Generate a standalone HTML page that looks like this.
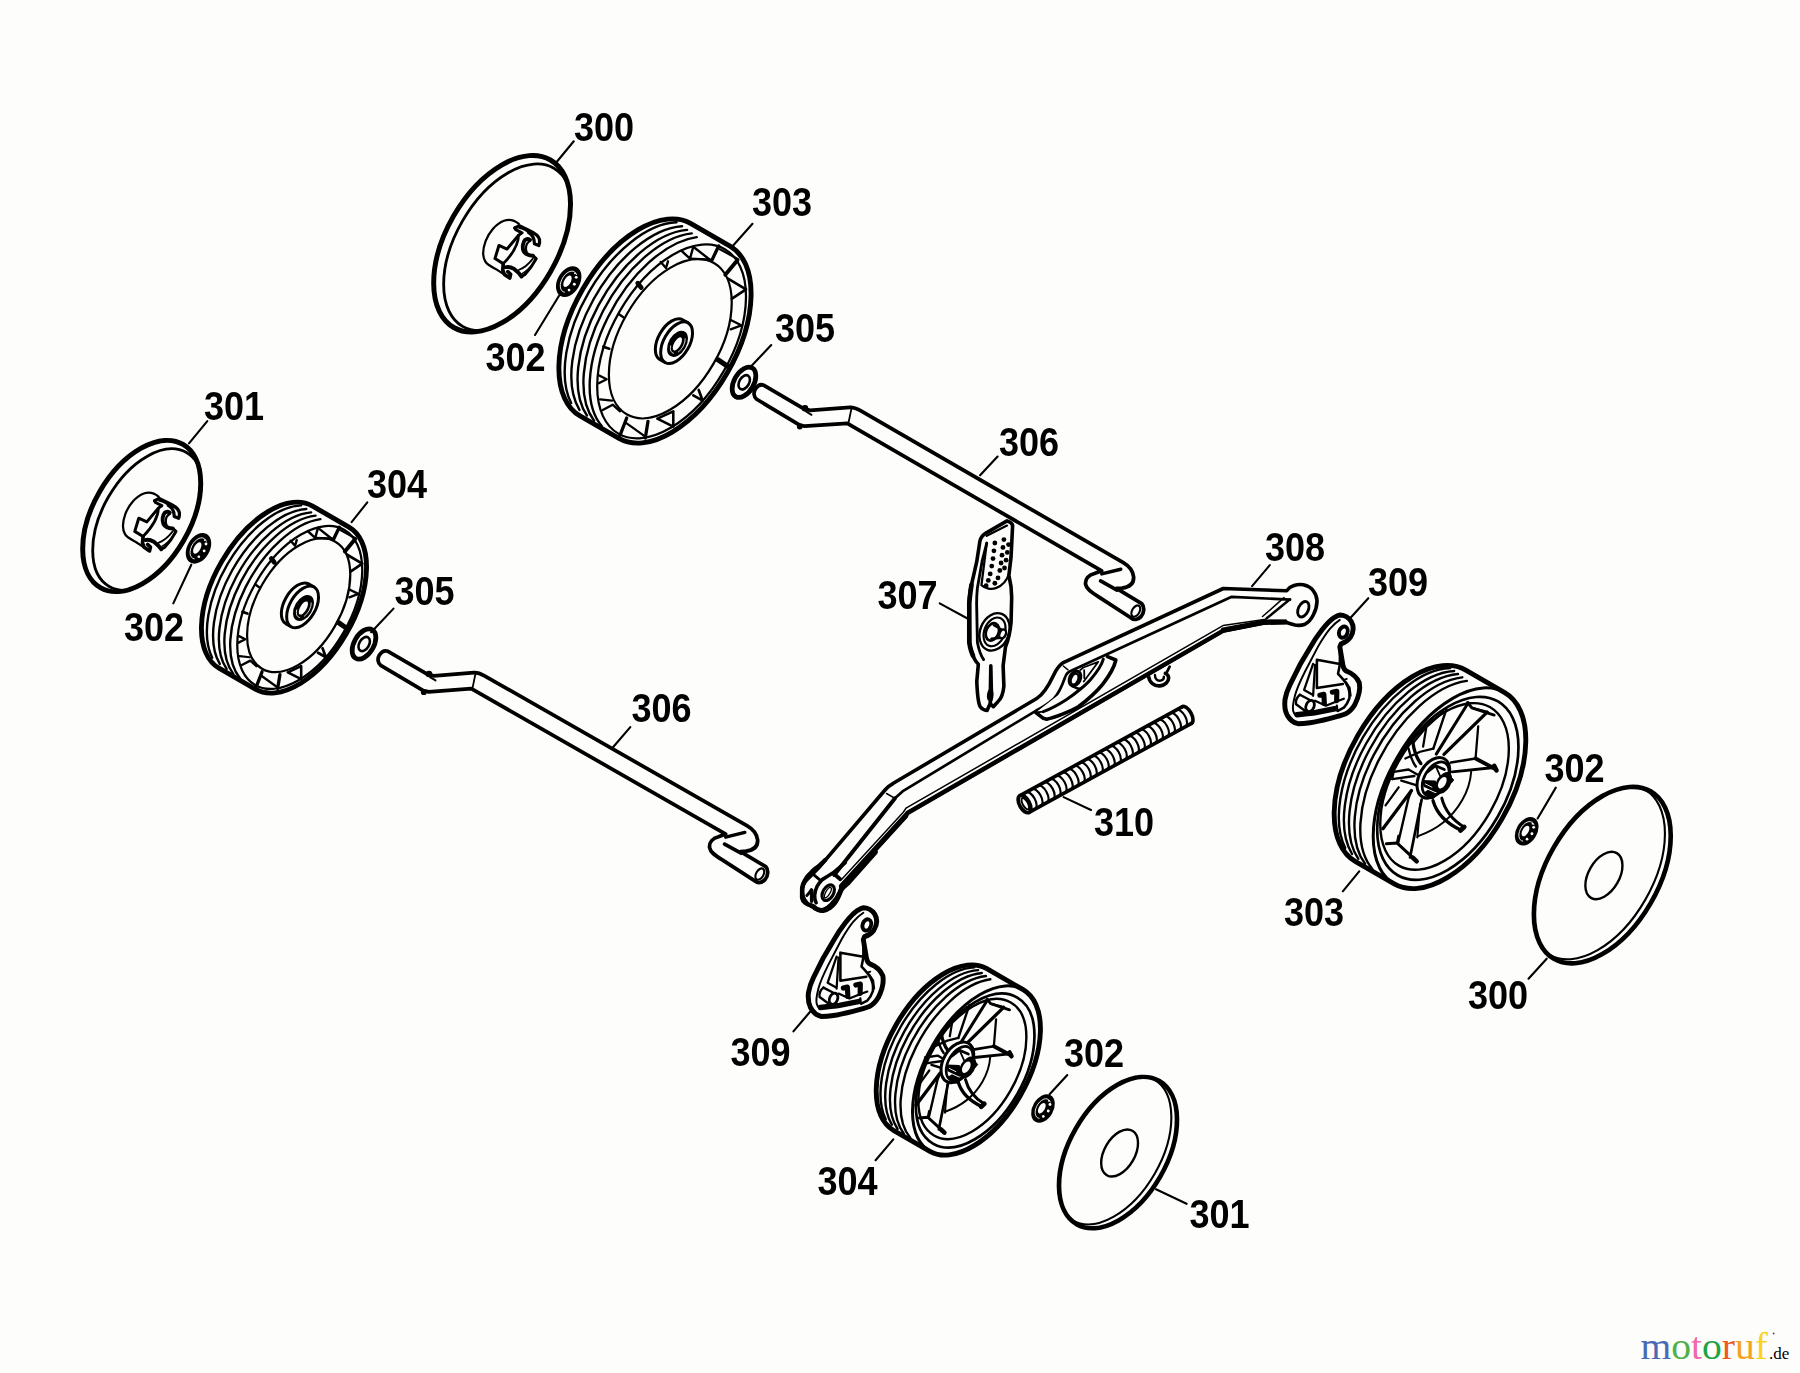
<!DOCTYPE html>
<html><head><meta charset="utf-8"><title>Parts diagram 300-310</title>
<style>html,body{margin:0;padding:0;background:#fdfefc}svg{display:block}path,ellipse,circle,line{vector-effect:non-scaling-stroke}text{font-family:"Liberation Sans",sans-serif;font-weight:bold;font-size:35px;fill:#000;stroke:none;opacity:.996}.logo text{font-family:"Liberation Serif",serif;font-weight:normal}</style></head><body>
<svg width="1800" height="1373" viewBox="0 0 1800 1373">
<rect width="1800" height="1373" fill="#fdfefc"/>
<g fill="none" stroke="#000" stroke-linecap="round" stroke-linejoin="round">
<g id="parts">
<ellipse cx="502.1" cy="243.75" rx="55.9" ry="96.7" transform="rotate(30 502.1 243.75)" stroke-width="4.95" fill="#fdfefc"/>
<clipPath id="c1"><ellipse cx="502.1" cy="243.75" rx="55.9" ry="96.7" transform="rotate(30 502.1 243.75)"/></clipPath>
<g clip-path="url(#c1)">
<ellipse cx="508.25" cy="247.3" rx="52.78" ry="91.3" transform="rotate(30 508.25 247.3)" stroke-width="2.85" />
</g>
<g transform="translate(465 205) scale(0.072222)">
<path d="M745 262C690 215 620 190 540 218C430 258 330 380 285 500C245 610 245 720 280 780C310 830 380 860 440 895L620 1012" stroke-width="2.25" />
<path d="M690 318L752 288L880 350C960 385 1020 420 1032 480C1036 520 1030 545 1022 560L962 536C960 470 935 410 880 380" stroke-width="3.3" />
<path d="M752 320C800 325 860 360 900 390" stroke-width="1.8" />
<path d="M690 318L702 342L790 386L742 420L582 610L470 560L415 742L530 812" stroke-width="3" />
<path d="M742 420C740 520 690 650 530 812" stroke-width="2.7" />
<path d="M530 812L522 900L545 962L620 1012L632 960L592 922" stroke-width="3.6" />
<path d="M560 862C600 850 640 862 680 885L742 940L782 990" stroke-width="3.9" />
<path d="M782 990L830 962C880 910 940 830 986 742L940 702" stroke-width="3" />
<path d="M742 900C800 880 880 820 940 742" stroke-width="1.8" />
<path d="M790 950C850 920 920 850 980 765" stroke-width="1.5" />
<path d="M940 702C890 700 840 690 812 640C790 590 800 520 830 485C850 468 880 470 900 482" stroke-width="3.9" />
<path d="M900 500C860 520 840 570 845 620C850 660 865 680 885 690" stroke-width="2.25" />
</g>
<ellipse cx="568.7" cy="281.6" rx="11.2" ry="16.5" transform="rotate(30 568.7 281.6)" fill="#000" stroke="none"/>
<g stroke="#fdfefc">
<path d="M564.44 292.2A6.9 11.6 30 1 1 576.51 274.63" stroke-width="0.9" />
</g>
<ellipse cx="567.5" cy="281.3" rx="3.2" ry="6.3" transform="rotate(30 567.5 281.3)" fill="#fdfefc" stroke="none"/>
<circle cx="576.21" cy="277.36" r="1.45" fill="#fdfefc" stroke="none"/>
<circle cx="574.34" cy="284.22" r="1.45" fill="#fdfefc" stroke="none"/>
<circle cx="569.05" cy="290.07" r="1.35" fill="#fdfefc" stroke="none"/>
<circle cx="574.95" cy="273.35" r="0.9" fill="#fdfefc" stroke="none"/>
<path d="M580 415.88A61 111 30 0 1 691 223.62L729.97 246.12A61 111 30 0 1 618.97 438.38Z" stroke-width="4.88" fill="#fdfefc"/>
<path d="M571.12 403.02A61 111 30 0 1 676.62 222.3" stroke-width="2.4" />
<path d="M579.45 409.96A61 111 30 0 1 682.06 226.19" stroke-width="2.4" />
<path d="M586.92 415.51A61 111 30 0 1 687.09 229.88" stroke-width="2.4" />
<path d="M594.09 420.73A61 111 30 0 1 691.72 233.37" stroke-width="2.4" />
<path d="M601.73 426.07A61 111 30 0 1 696.73 237.12" stroke-width="2.4" />
<g transform="translate(674.47 342.25) scale(1) translate(-674.47 -342.25)">
<ellipse cx="671.6" cy="341.4" rx="60" ry="106.5" transform="rotate(30 671.6 341.4)" stroke-width="2.25" />
<ellipse cx="670.3" cy="338.7" rx="49.9" ry="87.3" transform="rotate(30 670.3 338.7)" stroke-width="2.25" />
<path d="M637.8 283.2L641.2 287.6" stroke-width="4.8" />
<path d="M618.7 314L623.3 317.3" stroke-width="2.4" />
<path d="M603.3 346.7L609.3 348.7" stroke-width="2.7" />
<path d="M660.7 262L666 268L668 261.3" stroke-width="2.4" />
<path d="M681.3 250.7L690 258.7L693.3 246.7" stroke-width="2.4" />
<path d="M693.3 246.7L709.3 259.3M690.7 258.7L710.7 259.6" stroke-width="2.4" />
<path d="M718.7 246L712 260" stroke-width="3.3" />
<path d="M720 249.3L737.3 258.7" stroke-width="2.25" />
<path d="M737.6 260L725.3 274.7" stroke-width="3.9" />
<path d="M728 278.7L746 289.3L732 298.7" stroke-width="2.7" />
<path d="M730.7 320L741.3 325.3L730.7 329.3" stroke-width="2.4" />
<path d="M717.8 359.6L727.4 366.2" stroke-width="5.1" />
<path d="M693.3 395.3L702.7 400.7L698.7 390" stroke-width="2.7" />
<path d="M657.3 418.7L673.3 411.3L673.3 426.7Z" stroke-width="2.55" />
<path d="M620 435.3L626.7 418" stroke-width="3.3" />
<path d="M626.7 423.3L645.3 436.7" stroke-width="2.25" />
<path d="M645.3 438L648 421.3" stroke-width="3.3" />
<path d="M602.7 410L612.7 404.7L620 411.3" stroke-width="2.4" />
<path d="M600 399.3L612 400.7" stroke-width="2.25" />
<path d="M598.7 375.3L606.7 379.3L598.7 383.3" stroke-width="2.4" />
</g>
<path d="M665.15 362.53L659.69 359.38A12.8 22.9 30 0 1 682.59 319.72L688.05 322.87" stroke-width="3" fill="#fdfefc"/>
<ellipse cx="676.6" cy="342.7" rx="12.8" ry="22.9" transform="rotate(30 676.6 342.7)" stroke-width="3" fill="#fdfefc"/>
<ellipse cx="677.5" cy="343.8" rx="8.9" ry="14.2" transform="rotate(30 677.5 343.8)" fill="#000" stroke="none"/>
<g stroke="#fdfefc">
<path d="M685.2 338.7A6 10.6 30 0 1 678.37 352" stroke-width="0.83" />
<path d="M673.48 353.36A6 10.6 30 0 1 670.65 345.79" stroke-width="0.83" />
</g>
<ellipse cx="677.4" cy="343.8" rx="3.2" ry="7.4" transform="rotate(30 677.4 343.8)" fill="#fdfefc" stroke="none"/>
<ellipse cx="744" cy="382.3" rx="9.8" ry="16.5" transform="rotate(30 744 382.3)" stroke-width="4.8" fill="#fdfefc"/>
<ellipse cx="744.2" cy="382.3" rx="4.9" ry="7.7" transform="rotate(30 744.2 382.3)" stroke-width="2.62" />
<g transform="translate(0 0) matrix(1 0.008 0 1 0 -5.5)">
<path d="M764 384.7L804 408L810 409.3L850 406C854 405.8 857 407.2 860.5 409.2L1123.3 559.2C1129 562.5 1133 567.5 1133.6 573.3C1134 579 1130.5 583.4 1122 584.6L1116.5 585L1141.7 600C1144.5 603 1144.6 608.5 1141 613C1138 616.2 1134 617 1130.8 614.2L1098.3 593.3C1091 589 1086.2 585.6 1085.6 581C1085 576 1088.5 571.8 1094.5 570.2L1101.7 567.5L847.3 422L804.7 425.3L799.3 424L756.7 398.7C753.8 396.5 753.2 392 755.4 388.5C757.6 385 761 383.5 764 384.7Z" stroke-width="3.75" fill="#fdfefc"/>
<path d="M851.5 407L848.5 421.5" stroke-width="1.8" />
<circle cx="805" cy="407.4" r="3.3" fill="#000" stroke="none"/>
<circle cx="799.8" cy="425.6" r="2.9" fill="#000" stroke="none"/>
<path d="M806 410.5L811.5 413.8" stroke-width="1.95" />
<path d="M1120.8 565.8L1101.7 570.6" stroke-width="3.45" />
<path d="M1100.6 577.6L1117 586.6" stroke-width="3.75" />
<ellipse cx="1135.8" cy="607.5" rx="3.7" ry="6.2" transform="rotate(30 1135.8 607.5)" stroke-width="2.1" />
</g>
<ellipse cx="141.7" cy="516" rx="48.6" ry="82.7" transform="rotate(30 141.7 516)" stroke-width="4.95" fill="#fdfefc"/>
<clipPath id="c2"><ellipse cx="141.7" cy="516" rx="48.6" ry="82.7" transform="rotate(30 141.7 516)"/></clipPath>
<g clip-path="url(#c2)">
<ellipse cx="147.85" cy="519.55" rx="45.43" ry="77.3" transform="rotate(30 147.85 519.55)" stroke-width="2.85" />
</g>
<g transform="translate(104.8 477.8) scale(0.072222)">
<path d="M745 262C690 215 620 190 540 218C430 258 330 380 285 500C245 610 245 720 280 780C310 830 380 860 440 895L620 1012" stroke-width="2.25" />
<path d="M690 318L752 288L880 350C960 385 1020 420 1032 480C1036 520 1030 545 1022 560L962 536C960 470 935 410 880 380" stroke-width="3.3" />
<path d="M752 320C800 325 860 360 900 390" stroke-width="1.8" />
<path d="M690 318L702 342L790 386L742 420L582 610L470 560L415 742L530 812" stroke-width="3" />
<path d="M742 420C740 520 690 650 530 812" stroke-width="2.7" />
<path d="M530 812L522 900L545 962L620 1012L632 960L592 922" stroke-width="3.6" />
<path d="M560 862C600 850 640 862 680 885L742 940L782 990" stroke-width="3.9" />
<path d="M782 990L830 962C880 910 940 830 986 742L940 702" stroke-width="3" />
<path d="M742 900C800 880 880 820 940 742" stroke-width="1.8" />
<path d="M790 950C850 920 920 850 980 765" stroke-width="1.5" />
<path d="M940 702C890 700 840 690 812 640C790 590 800 520 830 485C850 468 880 470 900 482" stroke-width="3.9" />
<path d="M900 500C860 520 840 570 845 620C850 660 865 680 885 690" stroke-width="2.25" />
</g>
<ellipse cx="198.5" cy="548.3" rx="11.2" ry="16.5" transform="rotate(30 198.5 548.3)" fill="#000" stroke="none"/>
<g stroke="#fdfefc">
<path d="M194.24 558.9A6.9 11.6 30 1 1 206.31 541.32" stroke-width="0.9" />
</g>
<ellipse cx="197.3" cy="548" rx="3.2" ry="6.3" transform="rotate(30 197.3 548)" fill="#fdfefc" stroke="none"/>
<circle cx="206.01" cy="544.06" r="1.45" fill="#fdfefc" stroke="none"/>
<circle cx="204.14" cy="550.92" r="1.45" fill="#fdfefc" stroke="none"/>
<circle cx="198.85" cy="556.77" r="1.35" fill="#fdfefc" stroke="none"/>
<circle cx="204.75" cy="540.05" r="0.9" fill="#fdfefc" stroke="none"/>
<path d="M219 668.21A51 93.6 30 0 1 312.6 506.09L348.97 527.09A51 93.6 30 0 1 255.37 689.21Z" stroke-width="4.88" fill="#fdfefc"/>
<path d="M212.17 657.75A51 93.6 30 0 1 301.13 505.35" stroke-width="2.4" />
<path d="M219.77 663.93A51 93.6 30 0 1 306.31 508.98" stroke-width="2.4" />
<path d="M226.62 668.93A51 93.6 30 0 1 311.12 512.42" stroke-width="2.4" />
<path d="M233.18 673.63A51 93.6 30 0 1 315.56 515.67" stroke-width="2.4" />
<path d="M240.17 678.45A51 93.6 30 0 1 320.36 519.16" stroke-width="2.4" />
<g transform="translate(302.17 608.15) scale(0.84) translate(-674.47 -342.25)">
<ellipse cx="671.6" cy="341.4" rx="60" ry="106.5" transform="rotate(30 671.6 341.4)" stroke-width="2.25" />
<ellipse cx="670.3" cy="338.7" rx="49.9" ry="87.3" transform="rotate(30 670.3 338.7)" stroke-width="2.25" />
<path d="M637.8 283.2L641.2 287.6" stroke-width="4.8" />
<path d="M618.7 314L623.3 317.3" stroke-width="2.4" />
<path d="M603.3 346.7L609.3 348.7" stroke-width="2.7" />
<path d="M660.7 262L666 268L668 261.3" stroke-width="2.4" />
<path d="M681.3 250.7L690 258.7L693.3 246.7" stroke-width="2.4" />
<path d="M693.3 246.7L709.3 259.3M690.7 258.7L710.7 259.6" stroke-width="2.4" />
<path d="M718.7 246L712 260" stroke-width="3.3" />
<path d="M720 249.3L737.3 258.7" stroke-width="2.25" />
<path d="M737.6 260L725.3 274.7" stroke-width="3.9" />
<path d="M728 278.7L746 289.3L732 298.7" stroke-width="2.7" />
<path d="M730.7 320L741.3 325.3L730.7 329.3" stroke-width="2.4" />
<path d="M717.8 359.6L727.4 366.2" stroke-width="5.1" />
<path d="M693.3 395.3L702.7 400.7L698.7 390" stroke-width="2.7" />
<path d="M657.3 418.7L673.3 411.3L673.3 426.7Z" stroke-width="2.55" />
<path d="M620 435.3L626.7 418" stroke-width="3.3" />
<path d="M626.7 423.3L645.3 436.7" stroke-width="2.25" />
<path d="M645.3 438L648 421.3" stroke-width="3.3" />
<path d="M602.7 410L612.7 404.7L620 411.3" stroke-width="2.4" />
<path d="M600 399.3L612 400.7" stroke-width="2.25" />
<path d="M598.7 375.3L606.7 379.3L598.7 383.3" stroke-width="2.4" />
</g>
<path d="M291.15 626.73L285.69 623.58A12.8 22.9 30 0 1 308.59 583.92L314.05 587.07" stroke-width="3" fill="#fdfefc"/>
<ellipse cx="302.6" cy="606.9" rx="12.8" ry="22.9" transform="rotate(30 302.6 606.9)" stroke-width="3" fill="#fdfefc"/>
<ellipse cx="303.5" cy="608" rx="8.9" ry="14.2" transform="rotate(30 303.5 608)" fill="#000" stroke="none"/>
<g stroke="#fdfefc">
<path d="M311.2 602.9A6 10.6 30 0 1 304.37 616.2" stroke-width="0.83" />
<path d="M299.48 617.56A6 10.6 30 0 1 296.65 609.99" stroke-width="0.83" />
</g>
<ellipse cx="303.4" cy="608" rx="3.2" ry="7.4" transform="rotate(30 303.4 608)" fill="#fdfefc" stroke="none"/>
<ellipse cx="364" cy="644" rx="9.8" ry="16.5" transform="rotate(30 364 644)" stroke-width="4.8" fill="#fdfefc"/>
<ellipse cx="364.2" cy="644" rx="4.9" ry="7.7" transform="rotate(30 364.2 644)" stroke-width="2.62" />
<g transform="translate(-376 266.6) matrix(1 0 0 1 0 0)">
<path d="M764 384.7L804 408L810 409.3L850 406C854 405.8 857 407.2 860.5 409.2L1123.3 559.2C1129 562.5 1133 567.5 1133.6 573.3C1134 579 1130.5 583.4 1122 584.6L1116.5 585L1141.7 600C1144.5 603 1144.6 608.5 1141 613C1138 616.2 1134 617 1130.8 614.2L1098.3 593.3C1091 589 1086.2 585.6 1085.6 581C1085 576 1088.5 571.8 1094.5 570.2L1101.7 567.5L847.3 422L804.7 425.3L799.3 424L756.7 398.7C753.8 396.5 753.2 392 755.4 388.5C757.6 385 761 383.5 764 384.7Z" stroke-width="3.75" fill="#fdfefc"/>
<path d="M851.5 407L848.5 421.5" stroke-width="1.8" />
<circle cx="805" cy="407.4" r="3.3" fill="#000" stroke="none"/>
<circle cx="799.8" cy="425.6" r="2.9" fill="#000" stroke="none"/>
<path d="M806 410.5L811.5 413.8" stroke-width="1.95" />
<path d="M1120.8 565.8L1101.7 570.6" stroke-width="3.45" />
<path d="M1100.6 577.6L1117 586.6" stroke-width="3.75" />
<ellipse cx="1135.8" cy="607.5" rx="3.7" ry="6.2" transform="rotate(30 1135.8 607.5)" stroke-width="2.1" />
</g>
<path d="M1355.25 861.45A60.8 110.5 30 0 1 1465.75 670.05L1504.72 692.55A60.8 110.5 30 0 1 1394.22 883.95Z" stroke-width="4.88" fill="#fdfefc"/>
<path d="M1396.09 884.95A60.8 110.5 30 1 1 1506.53 693.67" stroke-width="3" />
<path d="M1345.25 847.98A60.8 110.5 30 0 1 1450.27 668.07" stroke-width="2.4" />
<path d="M1352.01 854A60.8 110.5 30 0 1 1454.15 671.05" stroke-width="2.4" />
<path d="M1358.31 858.87A60.8 110.5 30 0 1 1458.02 674.07" stroke-width="2.4" />
<path d="M1365.09 863.85A60.8 110.5 30 0 1 1462.27 677.33" stroke-width="2.4" />
<path d="M1372.33 868.96A60.8 110.5 30 0 1 1466.89 680.86" stroke-width="2.4" />
<g transform="translate(1449.47 788.25) scale(1) translate(-1449.47 -788.25)">
<ellipse cx="1447.83" cy="788.35" rx="57.38" ry="100.36" transform="rotate(30 1447.83 788.35)" stroke-width="2.7" />
<ellipse cx="1444.54" cy="786.45" rx="52.24" ry="91.38" transform="rotate(30 1444.54 786.45)" stroke-width="2.4" />
<g transform="translate(1350 690) scale(0.145666)">
<path d="M832 560C822 700 740 830 640 910C580 958 520 985 468 1003" stroke-width="1.95" />
<path d="M812 88L592 440" stroke-width="3" />
<path d="M942 152L645 442" stroke-width="3.3" />
<path d="M806 86L836 122L990 172" stroke-width="2.85" />
<path d="M836 122L944 150" stroke-width="2.1" />
<path d="M662 132L572 402" stroke-width="2.4" />
<path d="M640 150L524 256L502 388" stroke-width="2.25" />
<path d="M432 366L522 258" stroke-width="2.1" />
<path d="M880 250L862 470" stroke-width="2.25" />
<path d="M862 470L692 498" stroke-width="2.7" />
<path d="M862 470L1004 546" stroke-width="3.9" />
<path d="M702 562L990 532" stroke-width="2.85" />
<path d="M990 520L1006 552" stroke-width="4.5" />
<path d="M432 362C440 420 460 470 486 505" stroke-width="3.3" />
<path d="M402 402C412 450 430 495 452 525" stroke-width="2.4" />
<path d="M380 470L482 424L572 402" stroke-width="2.25" />
<path d="M300 562L402 546L462 580" stroke-width="2.4" />
<path d="M290 612L442 590" stroke-width="2.4" />
<path d="M352 622L482 662" stroke-width="2.4" />
<path d="M300 562L290 612" stroke-width="2.1" />
<path d="M226 952L422 690" stroke-width="3.3" />
<path d="M244 792L334 668" stroke-width="2.25" />
<path d="M330 1052L402 742L422 690" stroke-width="2.4" />
<path d="M412 1150L492 752" stroke-width="2.7" />
<path d="M462 1012L482 782" stroke-width="2.1" />
<path d="M250 1056L322 1050L452 1170" stroke-width="3" />
<path d="M430 1150L458 1176" stroke-width="4.5" />
<path d="M322 1050L332 1000" stroke-width="2.1" />
<path d="M570 760C590 830 650 910 762 962" stroke-width="3.3" />
<path d="M630 742C650 820 700 890 782 940" stroke-width="3" />
<path d="M758 964L784 940" stroke-width="4.8" />
</g>
</g>
<g transform="translate(0 0)">
<ellipse cx="1433.4" cy="777.8" rx="14" ry="22" transform="rotate(30 1433.4 777.8)" stroke-width="3" fill="#fdfefc"/>
<ellipse cx="1435.6" cy="779" rx="11.2" ry="18.6" transform="rotate(30 1435.6 779)" stroke-width="2.7" />
<g transform="translate(1405 745) scale(0.054645)">
<path d="M400 500L560 380L720 450" stroke-width="2.7" />
<path d="M560 380L640 560" stroke-width="1.8" />
<path d="M318 640L560 648L604 842L560 866L338 762Z" fill="#000" stroke="none"/>
<g stroke="#fdfefc">
<path d="M372 712L492 772" stroke-width="0.9" />
</g>
<path d="M850 596L892 640L850 692Z" fill="#000" stroke="#000" stroke-width="1"/>
<path d="M330 880C380 960 450 1000 520 990L600 900L420 820Z" fill="#000" stroke="none"/>
</g>
<ellipse cx="1443.6" cy="782.9" rx="7.2" ry="11.8" transform="rotate(30 1443.6 782.9)" fill="#000" stroke="none"/>
<ellipse cx="1442.3" cy="782.7" rx="3.5" ry="6.3" transform="rotate(30 1442.3 782.7)" fill="#fdfefc" stroke="none"/>
</g>
<ellipse cx="1526.7" cy="831.3" rx="10.42" ry="15.35" transform="rotate(30 1526.7 831.3)" fill="#000" stroke="none"/>
<g stroke="#fdfefc">
<path d="M1522.73 841.15A6.42 10.79 30 1 1 1533.95 824.81" stroke-width="0.9" />
</g>
<ellipse cx="1525.5" cy="831" rx="2.98" ry="5.86" transform="rotate(30 1525.5 831)" fill="#fdfefc" stroke="none"/>
<circle cx="1533.68" cy="827.36" r="1.45" fill="#fdfefc" stroke="none"/>
<circle cx="1531.94" cy="833.74" r="1.45" fill="#fdfefc" stroke="none"/>
<circle cx="1527.02" cy="839.18" r="1.35" fill="#fdfefc" stroke="none"/>
<circle cx="1532.51" cy="823.63" r="0.9" fill="#fdfefc" stroke="none"/>
<ellipse cx="1602.3" cy="875.1" rx="55.9" ry="96.7" transform="rotate(30 1602.3 875.1)" stroke-width="4.65" fill="#fdfefc"/>
<clipPath id="c3"><ellipse cx="1602.3" cy="875.1" rx="55.9" ry="96.7" transform="rotate(30 1602.3 875.1)"/></clipPath>
<g clip-path="url(#c3)">
<ellipse cx="1597.54" cy="872.35" rx="55.06" ry="95.25" transform="rotate(30 1597.54 872.35)" stroke-width="2.1" />
</g>
<ellipse cx="1603.9" cy="875.5" rx="15.4" ry="25.8" transform="rotate(30 1603.9 875.5)" stroke-width="2.4" />
<path d="M893.5 1130.3A50.6 93.3 30 0 1 986.8 968.7L1023.17 989.7A50.6 93.3 30 0 1 929.87 1151.3Z" stroke-width="4.88" fill="#fdfefc"/>
<path d="M931.43 1152.13A50.6 93.3 30 1 1 1024.67 990.63" stroke-width="3" />
<path d="M885.69 1119.29A50.6 93.3 30 0 1 974.36 967.39" stroke-width="2.4" />
<path d="M891.82 1124.62A50.6 93.3 30 0 1 978.09 970.17" stroke-width="2.4" />
<path d="M897.57 1128.98A50.6 93.3 30 0 1 981.82 972.98" stroke-width="2.4" />
<path d="M903.75 1133.46A50.6 93.3 30 0 1 985.9 976.03" stroke-width="2.4" />
<path d="M910.37 1138.06A50.6 93.3 30 0 1 990.34 979.31" stroke-width="2.4" />
<g transform="translate(976.52 1070.5) scale(0.84) translate(-1449.47 -788.25)">
<ellipse cx="1447.83" cy="788.35" rx="57.38" ry="100.36" transform="rotate(30 1447.83 788.35)" stroke-width="2.7" />
<ellipse cx="1444.54" cy="786.45" rx="52.24" ry="91.38" transform="rotate(30 1444.54 786.45)" stroke-width="2.4" />
<g transform="translate(1344.56 690.95) scale(0.145666)">
<path d="M832 560C822 700 740 830 640 910C580 958 520 985 468 1003" stroke-width="1.95" />
<path d="M812 88L592 440" stroke-width="3" />
<path d="M942 152L645 442" stroke-width="3.3" />
<path d="M806 86L836 122L990 172" stroke-width="2.85" />
<path d="M836 122L944 150" stroke-width="2.1" />
<path d="M662 132L572 402" stroke-width="2.4" />
<path d="M640 150L524 256L502 388" stroke-width="2.25" />
<path d="M432 366L522 258" stroke-width="2.1" />
<path d="M880 250L862 470" stroke-width="2.25" />
<path d="M862 470L692 498" stroke-width="2.7" />
<path d="M862 470L1004 546" stroke-width="3.9" />
<path d="M702 562L990 532" stroke-width="2.85" />
<path d="M990 520L1006 552" stroke-width="4.5" />
<path d="M432 362C440 420 460 470 486 505" stroke-width="3.3" />
<path d="M402 402C412 450 430 495 452 525" stroke-width="2.4" />
<path d="M380 470L482 424L572 402" stroke-width="2.25" />
<path d="M300 562L402 546L462 580" stroke-width="2.4" />
<path d="M290 612L442 590" stroke-width="2.4" />
<path d="M352 622L482 662" stroke-width="2.4" />
<path d="M300 562L290 612" stroke-width="2.1" />
<path d="M226 952L422 690" stroke-width="3.3" />
<path d="M244 792L334 668" stroke-width="2.25" />
<path d="M330 1052L402 742L422 690" stroke-width="2.4" />
<path d="M412 1150L492 752" stroke-width="2.7" />
<path d="M462 1012L482 782" stroke-width="2.1" />
<path d="M250 1056L322 1050L452 1170" stroke-width="3" />
<path d="M430 1150L458 1176" stroke-width="4.5" />
<path d="M322 1050L332 1000" stroke-width="2.1" />
<path d="M570 760C590 830 650 910 762 962" stroke-width="3.3" />
<path d="M630 742C650 820 700 890 782 940" stroke-width="3" />
<path d="M758 964L784 940" stroke-width="4.8" />
</g>
</g>
<g transform="translate(-476 284.5)">
<ellipse cx="1433.4" cy="777.8" rx="14" ry="22" transform="rotate(30 1433.4 777.8)" stroke-width="3" fill="#fdfefc"/>
<ellipse cx="1435.6" cy="779" rx="11.2" ry="18.6" transform="rotate(30 1435.6 779)" stroke-width="2.7" />
<g transform="translate(1405 745) scale(0.054645)">
<path d="M400 500L560 380L720 450" stroke-width="2.7" />
<path d="M560 380L640 560" stroke-width="1.8" />
<path d="M318 640L560 648L604 842L560 866L338 762Z" fill="#000" stroke="none"/>
<g stroke="#fdfefc">
<path d="M372 712L492 772" stroke-width="0.9" />
</g>
<path d="M850 596L892 640L850 692Z" fill="#000" stroke="#000" stroke-width="1"/>
<path d="M330 880C380 960 450 1000 520 990L600 900L420 820Z" fill="#000" stroke="none"/>
</g>
<ellipse cx="1443.6" cy="782.9" rx="7.2" ry="11.8" transform="rotate(30 1443.6 782.9)" fill="#000" stroke="none"/>
<ellipse cx="1442.3" cy="782.7" rx="3.5" ry="6.3" transform="rotate(30 1442.3 782.7)" fill="#fdfefc" stroke="none"/>
</g>
<ellipse cx="1043" cy="1108.5" rx="10.42" ry="15.35" transform="rotate(30 1043 1108.5)" fill="#000" stroke="none"/>
<g stroke="#fdfefc">
<path d="M1039.03 1118.35A6.42 10.79 30 1 1 1050.25 1102.01" stroke-width="0.9" />
</g>
<ellipse cx="1041.8" cy="1108.2" rx="2.98" ry="5.86" transform="rotate(30 1041.8 1108.2)" fill="#fdfefc" stroke="none"/>
<circle cx="1049.98" cy="1104.56" r="1.45" fill="#fdfefc" stroke="none"/>
<circle cx="1048.24" cy="1110.94" r="1.45" fill="#fdfefc" stroke="none"/>
<circle cx="1043.32" cy="1116.38" r="1.35" fill="#fdfefc" stroke="none"/>
<circle cx="1048.81" cy="1100.83" r="0.9" fill="#fdfefc" stroke="none"/>
<ellipse cx="1118" cy="1152.6" rx="48.6" ry="82.7" transform="rotate(30 1118 1152.6)" stroke-width="4.65" fill="#fdfefc"/>
<clipPath id="c4"><ellipse cx="1118" cy="1152.6" rx="48.6" ry="82.7" transform="rotate(30 1118 1152.6)"/></clipPath>
<g clip-path="url(#c4)">
<ellipse cx="1113.24" cy="1149.85" rx="47.87" ry="81.46" transform="rotate(30 1113.24 1149.85)" stroke-width="2.1" />
</g>
<ellipse cx="1119.6" cy="1153" rx="15.3" ry="25.6" transform="rotate(30 1119.6 1153)" stroke-width="2.4" />
<path d="M811.7 906.7C805.5 903 802.6 897 802.5 891.7C802.4 886 804 882.5 806.7 880L818.3 868.3L885 790C888 786.5 890 785 893.3 783.3L1036.7 698.5C1044 694 1048.5 686 1053.3 675.8C1055.5 671 1058 666 1063.3 662.6L1223.3 588.5L1286.7 590.8C1289 587.5 1291 586.5 1293.3 585.8C1297 584.5 1300 584.2 1303.3 584.7C1308 585.8 1311.5 588 1313.3 590.8C1316 594.5 1317.2 598 1317 601.7C1316.8 607 1315.5 611 1313.3 615C1311 619.5 1308.5 622.5 1305 624.2C1301.5 625.5 1298 625.6 1295 625C1291 624 1288 623 1285 622L1271.7 621.7L1263.3 622.6L1223.3 630.6L907.5 813L905.5 816L841.7 886C841.5 888 841 890 840 891.7C838 897 835 901 831.7 904.2C829 907 826 909 823.3 910C820 910.5 817.5 909.8 815 908.3Z" stroke-width="3.6" fill="#fdfefc"/>
<path d="M1285 622L1271.7 621.7L1263.3 622.6L1223.3 630.6L907.5 813L905.5 816L841.7 886C841.5 888 841 890 840 891.7C838 897 835 901 831.7 904.2C829 907 826 909 823.3 910C820 910.5 817.5 909.8 815 908.3" stroke-width="4.5" />
<path d="M1266 619.2L1223 625.6L906 808.2L903.5 812L842 879" stroke-width="1.5" />
<path d="M1290 599.6L1231.7 596.8L1071.7 670.6C1068 672 1066 674 1065 677.5C1062 686 1059 693 1054 698.5C1049 703 1043 707 1035.8 710.8L903.3 790.8L895 798.3L834.2 875" stroke-width="2.7" />
<path d="M895 798.3L834.2 875" stroke-width="3.9" />
<path d="M905.5 816L841.7 886" stroke-width="5.4" />
<path d="M1290 599.2L1266.7 618.3" stroke-width="2.4" />
<path d="M1284 597.6L1262.5 616.5" stroke-width="1.5" />
<path d="M886.5 793.5L895 798.3" stroke-width="1.5" />
<path d="M1063.3 666L1068 669.8" stroke-width="1.5" />
<ellipse cx="1303.3" cy="609.2" rx="5" ry="8.2" transform="rotate(25 1303.3 609.2)" stroke-width="2.85" />
<g transform="translate(790 850) scale(0.050251)">
<path d="M700 200C650 250 600 300 560 330C500 370 450 410 420 450C360 500 320 550 300 600C260 670 240 730 240 780L240 950C250 1000 270 1030 300 1050C340 1080 380 1095 420 1100C450 1110 470 1120 480 1130C510 1160 535 1180 560 1190C600 1210 630 1212 660 1210C710 1200 760 1180 800 1150C840 1120 870 1090 900 1050C935 1000 960 950 980 900C1000 850 1020 800 1040 760" stroke-width="4.35" />
<path d="M1040 760C1080 720 1130 680 1170 640L1700 40" stroke-width="4.95" />
<path d="M1100 250C1030 310 960 370 900 420C820 480 720 540 640 590C590 640 560 680 540 720C510 780 495 840 490 900C488 960 500 1010 520 1050" stroke-width="3.6" />
<path d="M480 500L600 600" stroke-width="2.85" />
<path d="M880 480L1000 580" stroke-width="3.9" />
<path d="M425 790C400 830 360 880 335 905" stroke-width="3" />
<path d="M432 800L430 1020" stroke-width="3.45" />
<ellipse cx="760" cy="850" rx="105" ry="168" transform="rotate(30 760 850)" stroke-width="3.15"/>
<ellipse cx="752" cy="850" rx="42" ry="118" transform="rotate(30 752 850)" stroke-width="1.35"/>
</g>
<path d="M1223.3 630.2L1263.3 622.4L1285 622" stroke-width="5.25" />
<g transform="translate(1020 640) scale(0.083333)">
<path d="M1050 200L1150 240C1130 330 1070 430 1000 520C940 600 800 730 700 800C620 850 420 930 320 950L280 940L190 870" stroke-width="3.6" fill="#fdfefc"/>
<path d="M1000 230C980 300 920 390 850 470C800 530 660 650 550 720C480 765 360 830 280 860" stroke-width="3" />
<path d="M190 870L280 860" stroke-width="1.8" />
<ellipse cx="660" cy="462" rx="62" ry="92" transform="rotate(25 660 462)" stroke-width="3.3" fill="#fdfefc"/>
<ellipse cx="655" cy="470" rx="42" ry="68" transform="rotate(25 655 470)" stroke-width="2.25"/>
<path d="M722 362L760 330L940 262L765 498" stroke-width="1.8" />
<path d="M770 362L772 458" stroke-width="1.8" />
<path d="M640 560C680 580 700 590 720 585" stroke-width="2.4" />
</g>
<g transform="translate(1030 560) scale(0.166667)">
<path d="M712 700C716 735 745 758 780 755C810 752 832 732 832 706C830 692 822 684 812 680" stroke-width="3.6" />
<path d="M750 690C748 712 764 728 784 724C798 720 805 710 803 700" stroke-width="2.4" />
<path d="M838 640L820 676" stroke-width="2.7" />
</g>
<path d="M1029.06 812.33L1191.56 723.33L1182.44 706.67L1019.94 795.67Z" stroke-width="0.01" fill="#fdfefc" stroke="none"/>
<path d="M1019.94 795.67L1182.44 706.67" stroke-width="3.6" />
<path d="M1029.06 812.33L1191.56 723.33" stroke-width="3.6" />
<path d="M1025.96 792.37A4.6 9.5 -28.71 0 1 1035.08 809.04" stroke-width="2.17"/>
<path d="M1031.97 789.08A4.6 9.5 -28.71 0 1 1041.1 805.74" stroke-width="2.17"/>
<path d="M1037.99 785.78A4.6 9.5 -28.71 0 1 1047.12 802.44" stroke-width="2.17"/>
<path d="M1044.01 782.48A4.6 9.5 -28.71 0 1 1053.14 799.15" stroke-width="2.17"/>
<path d="M1050.03 779.19A4.6 9.5 -28.71 0 1 1059.16 795.85" stroke-width="2.17"/>
<path d="M1056.05 775.89A4.6 9.5 -28.71 0 1 1065.17 792.55" stroke-width="2.17"/>
<path d="M1062.07 772.59A4.6 9.5 -28.71 0 1 1071.19 789.26" stroke-width="2.17"/>
<path d="M1068.08 769.3A4.6 9.5 -28.71 0 1 1077.21 785.96" stroke-width="2.17"/>
<path d="M1074.1 766A4.6 9.5 -28.71 0 1 1083.23 782.67" stroke-width="2.17"/>
<path d="M1080.12 762.7A4.6 9.5 -28.71 0 1 1089.25 779.37" stroke-width="2.17"/>
<path d="M1086.14 759.41A4.6 9.5 -28.71 0 1 1095.27 776.07" stroke-width="2.17"/>
<path d="M1092.16 756.11A4.6 9.5 -28.71 0 1 1101.29 772.78" stroke-width="2.17"/>
<path d="M1098.18 752.82A4.6 9.5 -28.71 0 1 1107.3 769.48" stroke-width="2.17"/>
<path d="M1104.2 749.52A4.6 9.5 -28.71 0 1 1113.32 766.18" stroke-width="2.17"/>
<path d="M1110.21 746.22A4.6 9.5 -28.71 0 1 1119.34 762.89" stroke-width="2.17"/>
<path d="M1116.23 742.93A4.6 9.5 -28.71 0 1 1125.36 759.59" stroke-width="2.17"/>
<path d="M1122.25 739.63A4.6 9.5 -28.71 0 1 1131.38 756.3" stroke-width="2.17"/>
<path d="M1128.27 736.33A4.6 9.5 -28.71 0 1 1137.4 753" stroke-width="2.17"/>
<path d="M1134.29 733.04A4.6 9.5 -28.71 0 1 1143.42 749.7" stroke-width="2.17"/>
<path d="M1140.31 729.74A4.6 9.5 -28.71 0 1 1149.43 746.41" stroke-width="2.17"/>
<path d="M1146.33 726.45A4.6 9.5 -28.71 0 1 1155.45 743.11" stroke-width="2.17"/>
<path d="M1152.34 723.15A4.6 9.5 -28.71 0 1 1161.47 739.81" stroke-width="2.17"/>
<path d="M1158.36 719.85A4.6 9.5 -28.71 0 1 1167.49 736.52" stroke-width="2.17"/>
<path d="M1164.38 716.56A4.6 9.5 -28.71 0 1 1173.51 733.22" stroke-width="2.17"/>
<path d="M1170.4 713.26A4.6 9.5 -28.71 0 1 1179.53 729.92" stroke-width="2.17"/>
<path d="M1176.42 709.96A4.6 9.5 -28.71 0 1 1185.54 726.63" stroke-width="2.17"/>
<path d="M1182.44 706.67A4.6 9.5 -28.71 0 1 1191.56 723.33" stroke-width="3.6"/>
<ellipse cx="1024.5" cy="804" rx="5" ry="9.5" transform="rotate(-28.709181566138493 1024.5 804)" stroke-width="3.75" fill="#fdfefc"/>
<ellipse cx="1025.3" cy="803.7" rx="2.6" ry="6.3" transform="rotate(-28.709181566138493 1025.3 803.7)" stroke-width="1.95" />
<g transform="translate(940 510) scale(0.155844)">
<path d="M430 70C445 75 462 85 466 98L456 300L442 420C455 470 460 520 460 560L456 720C452 770 440 830 420 880L405 1000L410 1130C405 1180 390 1215 370 1232L342 1262L322 1242L330 1180L326 1000L322 1242L302 1286C285 1284 268 1276 258 1262C245 1240 240 1200 236 1100L246 990C225 970 205 930 190 860L186 600C190 540 196 500 202 480L236 330L256 200C262 175 275 160 292 150Z" stroke-width="3.6" fill="#fdfefc"/>
<path d="M300 212L270 330L240 500C236 540 235 570 235 600L240 850C250 900 262 935 280 960" stroke-width="2.85" />
<path d="M202 480C196 520 190 560 188 600L188 850C194 890 202 915 212 935" stroke-width="4.65" />
<path d="M300 166L430 100M300 212L266 482C290 505 330 512 362 500C400 485 430 450 442 412" stroke-width="2.25" />
<circle cx="352" cy="212" r="15.5" fill="#000" stroke="none"/>
<circle cx="410" cy="190" r="15.5" fill="#000" stroke="none"/>
<circle cx="346" cy="262" r="15.5" fill="#000" stroke="none"/>
<circle cx="404" cy="240" r="15.5" fill="#000" stroke="none"/>
<circle cx="340" cy="312" r="15.5" fill="#000" stroke="none"/>
<circle cx="398" cy="290" r="15.5" fill="#000" stroke="none"/>
<circle cx="332" cy="360" r="15.5" fill="#000" stroke="none"/>
<circle cx="392" cy="340" r="15.5" fill="#000" stroke="none"/>
<circle cx="322" cy="410" r="15.5" fill="#000" stroke="none"/>
<circle cx="384" cy="388" r="15.5" fill="#000" stroke="none"/>
<circle cx="310" cy="452" r="15.5" fill="#000" stroke="none"/>
<circle cx="372" cy="436" r="15.5" fill="#000" stroke="none"/>
<circle cx="296" cy="486" r="15.5" fill="#000" stroke="none"/>
<circle cx="352" cy="470" r="15.5" fill="#000" stroke="none"/>
<circle cx="440" cy="222" r="15.5" fill="#000" stroke="none"/>
<circle cx="432" cy="272" r="15.5" fill="#000" stroke="none"/>
<circle cx="424" cy="322" r="15.5" fill="#000" stroke="none"/>
<circle cx="414" cy="372" r="15.5" fill="#000" stroke="none"/>
<ellipse cx="350" cy="782" rx="92" ry="124" transform="rotate(22 350 782)" stroke-width="2.4"/>
<ellipse cx="350" cy="782" rx="66" ry="96" transform="rotate(22 350 782)" stroke-width="2.1"/>
<ellipse cx="336" cy="782" rx="40" ry="58" transform="rotate(22 336 782)" stroke-width="2.7"/>
<path d="M346 740L400 770M330 826L392 820" stroke-width="2.4" />
<ellipse cx="402" cy="795" rx="20" ry="30" transform="rotate(22 402 795)" stroke-width="2.4" fill="#fdfefc"/>
<path d="M314 1150C300 1170 296 1200 306 1220L336 1224C346 1200 346 1170 336 1150Z" fill="#000" stroke="none"/>
</g>
<g transform="translate(1270 600) scale(0.099751)">
<path d="M700 150C740 150 790 175 815 215C840 260 840 320 805 375C780 410 745 430 712 440L700 470L732 660C740 690 750 705 770 715C820 735 870 770 895 830C905 880 895 960 850 1050C820 1100 790 1125 760 1140C700 1165 500 1215 400 1230C350 1238 310 1240 280 1240C230 1230 195 1195 170 1150C145 1100 145 1050 150 1000C160 940 180 890 200 850L300 650L400 480C440 410 480 350 520 300C560 250 600 205 640 178C660 165 680 152 700 150Z" stroke-width="4.95" fill="#fdfefc"/>
<path d="M700 200C660 225 630 255 600 290C555 345 515 410 480 470L350 720C300 820 265 900 250 960C232 1030 225 1080 232 1110C238 1135 248 1150 262 1160" stroke-width="1.95" />
<ellipse cx="735" cy="322" rx="42" ry="58" transform="rotate(20 735 322)" stroke-width="3.9"/>
<path d="M702 470L700 650L682 740C710 770 740 800 765 840C790 880 802 930 796 985C780 1030 760 1060 740 1080L680 1112" stroke-width="2.55" />
<path d="M470 600L700 642M470 600L470 882L730 842" stroke-width="2.55" />
<path d="M432 640L342 902L432 952M452 650L432 960" stroke-width="2.25" />
<path d="M300 950C270 975 255 1010 262 1045L350 1110" stroke-width="2.4" />
<path d="M300 950L395 1000" stroke-width="2.4" />
<ellipse cx="402" cy="1062" rx="40" ry="58" transform="rotate(22 402 1062)" stroke-width="2.85" fill="#fdfefc"/>
<path d="M500 955L540 945L545 1040" stroke-width="5.1" />
<path d="M625 925L670 915L668 1010" stroke-width="5.1" />
<path d="M452 1010L560 1060L660 1020L740 990" stroke-width="2.25" />
<path d="M270 1150C340 1140 420 1135 460 1128L650 1090" stroke-width="5.4" />
<path d="M670 1060L674 1110" stroke-width="2.4" />
<path d="M742 800L770 790M760 820L800 880L810 960" stroke-width="1.8" />
</g>
<g transform="translate(793.5 892.8) scale(0.099751)">
<path d="M700 150C740 150 790 175 815 215C840 260 840 320 805 375C780 410 745 430 712 440L700 470L732 660C740 690 750 705 770 715C820 735 870 770 895 830C905 880 895 960 850 1050C820 1100 790 1125 760 1140C700 1165 500 1215 400 1230C350 1238 310 1240 280 1240C230 1230 195 1195 170 1150C145 1100 145 1050 150 1000C160 940 180 890 200 850L300 650L400 480C440 410 480 350 520 300C560 250 600 205 640 178C660 165 680 152 700 150Z" stroke-width="4.95" fill="#fdfefc"/>
<path d="M700 200C660 225 630 255 600 290C555 345 515 410 480 470L350 720C300 820 265 900 250 960C232 1030 225 1080 232 1110C238 1135 248 1150 262 1160" stroke-width="1.95" />
<ellipse cx="735" cy="322" rx="42" ry="58" transform="rotate(20 735 322)" stroke-width="3.9"/>
<path d="M702 470L700 650L682 740C710 770 740 800 765 840C790 880 802 930 796 985C780 1030 760 1060 740 1080L680 1112" stroke-width="2.55" />
<path d="M470 600L700 642M470 600L470 882L730 842" stroke-width="2.55" />
<path d="M432 640L342 902L432 952M452 650L432 960" stroke-width="2.25" />
<path d="M300 950C270 975 255 1010 262 1045L350 1110" stroke-width="2.4" />
<path d="M300 950L395 1000" stroke-width="2.4" />
<ellipse cx="402" cy="1062" rx="40" ry="58" transform="rotate(22 402 1062)" stroke-width="2.85" fill="#fdfefc"/>
<path d="M500 955L540 945L545 1040" stroke-width="5.1" />
<path d="M625 925L670 915L668 1010" stroke-width="5.1" />
<path d="M452 1010L560 1060L660 1020L740 990" stroke-width="2.25" />
<path d="M270 1150C340 1140 420 1135 460 1128L650 1090" stroke-width="5.4" />
<path d="M670 1060L674 1110" stroke-width="2.4" />
<path d="M742 800L770 790M760 820L800 880L810 960" stroke-width="1.8" />
</g>
</g></g>
<g class="logo" font-size="38.5">
<text y="1358.5" style="font-family:'Liberation Serif',serif;font-weight:normal;font-size:38.5px" textLength="127.5" lengthAdjust="spacingAndGlyphs" x="1640.5"><tspan fill="#4a6ab3">m</tspan><tspan fill="#4fb049">o</tspan><tspan fill="#ee6aa8">t</tspan><tspan fill="#1ea347">o</tspan><tspan fill="#ef5a23">r</tspan><tspan fill="#f5a21e">u</tspan><tspan fill="#fbd21c">f</tspan></text>
<text x="1769" y="1358.5" style="font-family:'Liberation Serif',serif;font-weight:normal;font-size:17px" fill="#2b2b22">.de</text>
<circle cx="1773.6" cy="1333.4" r="1" fill="#555" stroke="none"/>
</g>
<g fill="none" stroke="#000" stroke-linecap="round" stroke-linejoin="round"><g>
<g style="filter:grayscale(1)">
<path d="M573.75 141.25L556.25 162.5" stroke-width="2.1" />
<text transform="translate(574 140.5) scale(1.03 1.155)">300</text>
<path d="M752.5 223.75L732.5 246.25" stroke-width="2.1" />
<text transform="translate(752 215.5) scale(1.03 1.155)">303</text>
<path d="M535 335L559.5 295" stroke-width="2.1" />
<text transform="translate(485.5 370.5) scale(1.03 1.155)">302</text>
<path d="M771.25 345L750 367.5" stroke-width="2.1" />
<text transform="translate(775 341.5) scale(1.03 1.155)">305</text>
<path d="M207.3 421.1L189 443.4" stroke-width="2.1" />
<text transform="translate(204 420) scale(1.03 1.155)">301</text>
<path d="M367.3 502.4L351.6 522.1" stroke-width="2.1" />
<text transform="translate(367 497.5) scale(1.03 1.155)">304</text>
<path d="M173.3 603.4L191.3 564.7" stroke-width="2.1" />
<text transform="translate(124 640.5) scale(1.03 1.155)">302</text>
<path d="M393.5 608.6L371.2 632.2" stroke-width="2.1" />
<text transform="translate(394.5 605) scale(1.03 1.155)">305</text>
<path d="M997.6 456.5L980.1 475.3" stroke-width="2.1" />
<text transform="translate(999 455.5) scale(1.03 1.155)">306</text>
<path d="M939.7 603.3L969.3 619.5" stroke-width="2.1" />
<text transform="translate(877.5 609) scale(1.03 1.155)">307</text>
<path d="M630.3 727.1L613 747.3" stroke-width="2.1" />
<text transform="translate(631.5 721.5) scale(1.03 1.155)">306</text>
<path d="M1269.8 565.1L1252.1 586.1" stroke-width="2.1" />
<text transform="translate(1265 560.5) scale(1.03 1.155)">308</text>
<path d="M1091 810L1063.6 797.1" stroke-width="2.1" />
<text transform="translate(1094 836) scale(1.03 1.155)">310</text>
<path d="M1359.2 871.3L1342.8 891.3" stroke-width="2.1" />
<text transform="translate(1284 925.5) scale(1.03 1.155)">303</text>
<path d="M1368.3 598.2L1350.1 618.3" stroke-width="2.1" />
<text transform="translate(1368 595.5) scale(1.03 1.155)">309</text>
<path d="M1555.8 787.6L1537.6 818.5" stroke-width="2.1" />
<text transform="translate(1544.5 781.5) scale(1.03 1.155)">302</text>
<path d="M1546.7 958.7L1528.5 978.7" stroke-width="2.1" />
<text transform="translate(1468 1009) scale(1.03 1.155)">300</text>
<path d="M811.2 1010.5L793.4 1031.4" stroke-width="2.1" />
<text transform="translate(730.5 1065.5) scale(1.03 1.155)">309</text>
<path d="M893.3 1139.4L875.6 1160.3" stroke-width="2.1" />
<text transform="translate(817.5 1194.5) scale(1.03 1.155)">304</text>
<path d="M1067.3 1075L1049.6 1094.3" stroke-width="2.1" />
<text transform="translate(1064 1067) scale(1.03 1.155)">302</text>
<path d="M1156 1189.3L1186.6 1203.8" stroke-width="2.1" />
<text transform="translate(1189.5 1228) scale(1.03 1.155)">301</text>
</g>
</g></g>
</svg></body></html>
